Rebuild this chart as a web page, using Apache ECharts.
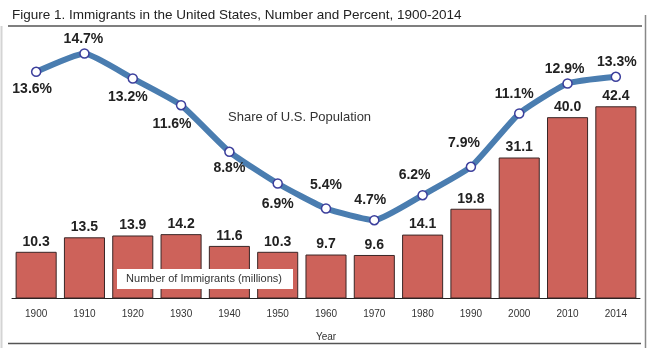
<!DOCTYPE html>
<html>
<head>
<meta charset="utf-8">
<script src="https://cdn.jsdelivr.net/npm/echarts@6/dist/echarts.min.js"></script>
<style>
  html, body { margin: 0; padding: 0; background: #fff; }
  #chart { width: 652px; height: 348px; }
</style>
</head>
<body>
<div id="chart"></div>
<script>
// years on the x axis
var years = ['1900', '1910', '1920', '1930', '1940', '1950', '1960', '1970', '1980', '1990', '2000', '2010', '2014'];
// number of immigrants, millions (bars)
var immigrants = [10.3, 13.5, 13.9, 14.2, 11.6, 10.3, 9.7, 9.6, 14.1, 19.8, 31.1, 40.0, 42.4];
// share of U.S. population, percent (line)
var share = [13.6, 14.7, 13.2, 11.6, 8.8, 6.9, 5.4, 4.7, 6.2, 7.9, 11.1, 12.9, 13.3];
// where each percent label sits around its point [dx, dy]
var shareLabelOffset = [[-4, 17], [-1, -14], [-5, 19], [-9, 19], [0, 16], [0, 21], [0, -23],
  [-4, -20], [-8, -20], [-7, -24], [-5, -19], [-3, -14], [1, -15]];

var chart = echarts.init(document.getElementById('chart'));

var lineData = share.map(function (v, i) {
  return {
    value: v,
    label: { offset: shareLabelOffset[i] }
  };
});

var option = {
  backgroundColor: '#fff',
  animation: false,
  textStyle: { fontFamily: 'Liberation Sans, Arial, sans-serif' },
  title: {
    text: 'Figure 1. Immigrants in the United States, Number and Percent, 1900-2014',
    left: 7,
    top: 3,
    textStyle: { fontSize: 13.5, fontWeight: 'normal', color: '#222', fontFamily: 'Liberation Sans, Arial, sans-serif' }
  },
  grid: { left: 12, right: 12, top: 26.5, bottom: 49.5 },
  xAxis: {
    type: 'category',
    data: years,
    name: 'Year',
    nameLocation: 'middle',
    nameGap: 34,
    nameTextStyle: { fontSize: 10, color: '#333' },
    axisLine: { lineStyle: { color: '#222', width: 1 } },
    axisTick: { length: 3, lineStyle: { color: '#222' } },
    axisLabel: { fontSize: 10, color: '#333', margin: 11 }
  },
  yAxis: [
    { type: 'value', min: 0, max: 60, show: false },
    { type: 'value', min: 0, max: 16.32, show: false }
  ],
  series: [
    {
      name: 'Number of Immigrants (millions)',
      type: 'bar',
      data: immigrants,
      barCategoryGap: '15%',
      itemStyle: { color: '#cd625a', borderColor: '#3a2626', borderWidth: 1 },
      label: {
        show: true,
        position: 'top',
        distance: 3,
        fontSize: 14,
        fontWeight: 'bold',
        color: '#222',
        formatter: function (p) { return p.value.toFixed(1); }
      },
      z: 2
    },
    {
      name: 'Share of U.S. Population',
      type: 'line',
      yAxisIndex: 1,
      data: lineData,
      smooth: 0.15,
      symbol: 'circle',
      symbolSize: 9,
      lineStyle: { color: '#4a7db0', width: 6 },
      itemStyle: { color: '#fff', borderColor: '#3c3f9c', borderWidth: 1.5 },
      label: {
        show: true,
        position: 'inside',
        fontSize: 14,
        fontWeight: 'bold',
        color: '#222',
        formatter: function (p) { return p.value.toFixed(1) + '%'; }
      },
      z: 5
    }
  ],
  graphic: [
    { type: 'line', shape: { x1: 8, y1: 26, x2: 642, y2: 26 }, style: { stroke: '#555', lineWidth: 1.5 } },
    { type: 'line', shape: { x1: 8, y1: 343.5, x2: 641, y2: 343.5 }, style: { stroke: '#555', lineWidth: 1.5 } },
    { type: 'line', shape: { x1: 1.5, y1: 26, x2: 1.5, y2: 348 }, style: { stroke: '#d4d4d4', lineWidth: 2 } },
    { type: 'line', shape: { x1: 645.5, y1: 15, x2: 645.5, y2: 348 }, style: { stroke: '#888', lineWidth: 1.5 } },
    {
      type: 'text', left: 228, top: 111, z: 10,
      style: { text: 'Share of U.S. Population', fontSize: 13, fill: '#333', fontFamily: 'Liberation Sans, Arial, sans-serif' }
    },
    { type: 'rect', shape: { x: 117, y: 269, width: 176, height: 20 }, style: { fill: '#fff' }, z: 10 },
    {
      type: 'text', x: 204, y: 279, z: 11,
      style: { text: 'Number of Immigrants (millions)', fontSize: 11, fill: '#333', align: 'center', verticalAlign: 'middle', fontFamily: 'Liberation Sans, Arial, sans-serif' }
    }
  ]
};

chart.setOption(option);
</script>
</body>
</html>
